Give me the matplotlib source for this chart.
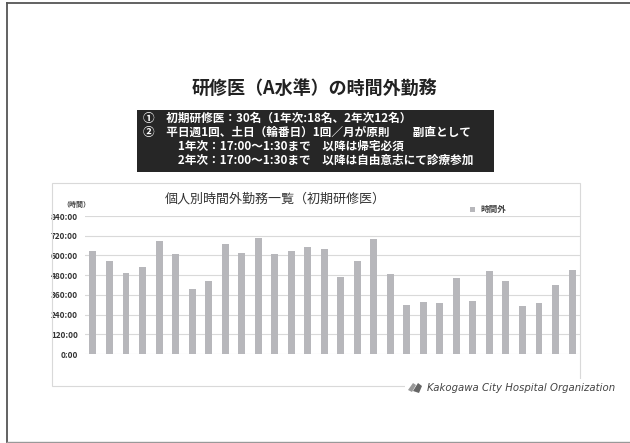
import matplotlib
matplotlib.use("Agg")
import matplotlib.pyplot as plt
from matplotlib.patches import Rectangle, Polygon
import numpy as np

plt.rcParams['font.family'] = ['Noto Sans CJK JP', 'DejaVu Sans']

# 時間外勤務時間（時間）研修医30名分
hours = [624, 568, 496, 528, 688, 608, 396, 444, 670, 614,
         704, 608, 628, 654, 638, 471, 565, 700, 484, 300,
         318, 308, 462, 324, 508, 444, 290, 310, 422, 512]
yticks = [0, 120, 240, 360, 480, 600, 720, 840]
ytick_labels = ["%d:00" % h for h in yticks]

title = "研修医（A水準）の時間外勤務"
notes = ["①　初期研修医：30名（1年次:18名、2年次12名）",
         "②　平日週1回、土日（輪番日）1回／月が原則　　副直として",
         "　　　1年次：17:00～1:30まで　以降は帰宅必須",
         "　　　2年次：17:00～1:30まで　以降は自由意志にて診療参加"]
chart_title = "個人別時間外勤務一覧（初期研修医）"
series_name = "時間外"

W, H = 630, 443
fig = plt.figure(figsize=(6.3, 4.43), dpi=100)
fig.patch.set_facecolor("white")

def fx(px):
    return px / W

def fy(py):
    return 1 - py / H

# slide frame
fig.add_artist(plt.Line2D([fx(7), fx(7)], [fy(3), fy(442)], color="#555555", lw=1.3))
fig.add_artist(plt.Line2D([fx(7), 1], [fy(3), fy(3)], color="#555555", lw=1.3))
fig.add_artist(plt.Line2D([fx(7), 1], [fy(442), fy(442)], color="#999999", lw=1.0))

fig.text(fx(314), fy(88), title, ha="center", va="center",
         fontsize=13, fontweight="bold", color="#222222")

# black note box
fig.add_artist(Rectangle((fx(137), fy(172)), fx(494 - 137), (172 - 110) / H,
                         transform=fig.transFigure, facecolor="#262626",
                         edgecolor="none"))
for i, line in enumerate(notes):
    fig.text(fx(143), fy(118 + 14 * i), line, ha="left", va="center",
             fontsize=8.4, fontweight="bold", color="white")

# chart frame
fig.add_artist(Rectangle((fx(52), fy(386)), fx(580 - 52), (386 - 183) / H,
                         transform=fig.transFigure, facecolor="none",
                         edgecolor="#d9d9d9", lw=0.8))

ax = fig.add_axes([fx(84.7), fy(354), fx(580.3 - 84.7), (354 - 216) / H])
x = np.arange(len(hours))
ax.bar(x, hours, width=0.42, color="#b7b7bb", zorder=3)
ax.set_xlim(-0.5, len(hours) - 0.5)
ax.set_ylim(0, 840)
ax.set_yticks(yticks)
ax.set_yticklabels(ytick_labels, fontsize=5.9, fontweight="bold", color="#333333")
ax.set_xticks([])
ax.yaxis.grid(True, color="#d9d9d9", lw=0.8, zorder=0)
for s in ax.spines.values():
    s.set_visible(False)
ax.tick_params(axis="y", length=0, pad=5)

fig.text(fx(275), fy(199), chart_title, ha="center", va="center",
         fontsize=9.4, color="#333333")
fig.text(fx(76), fy(205), "（時間）", ha="center", va="center",
         fontsize=5, fontweight="bold", color="#444444")
fig.add_artist(Rectangle((fx(470), fy(212)), fx(5), 5 / H,
                         transform=fig.transFigure, facecolor="#b7b7bb",
                         edgecolor="none"))
fig.text(fx(480), fy(209), series_name, ha="left", va="center",
         fontsize=6.2, fontweight="bold", color="#444444")

# logo mark and organization name
fig.add_artist(Rectangle((fx(405), fy(395)), fx(210), 16 / H,
                         transform=fig.transFigure, facecolor="white",
                         edgecolor="none"))
fig.add_artist(Polygon([(fx(408), fy(390)), (fx(413), fy(383)), (fx(416), fy(385)),
                        (fx(412), fy(392))], closed=True, transform=fig.transFigure,
                       facecolor="#999999", edgecolor="none"))
fig.add_artist(Polygon([(fx(413), fy(391)), (fx(418), fy(383)), (fx(422), fy(386)),
                        (fx(419), fy(393))], closed=True, transform=fig.transFigure,
                       facecolor="#666666", edgecolor="none"))
fig.text(fx(427), fy(388), "Kakogawa City Hospital Organization", ha="left",
         va="center", fontsize=7.3, style="italic", color="#444444",
         family="DejaVu Sans")

fig.savefig("out.png", dpi=100, facecolor="white")
